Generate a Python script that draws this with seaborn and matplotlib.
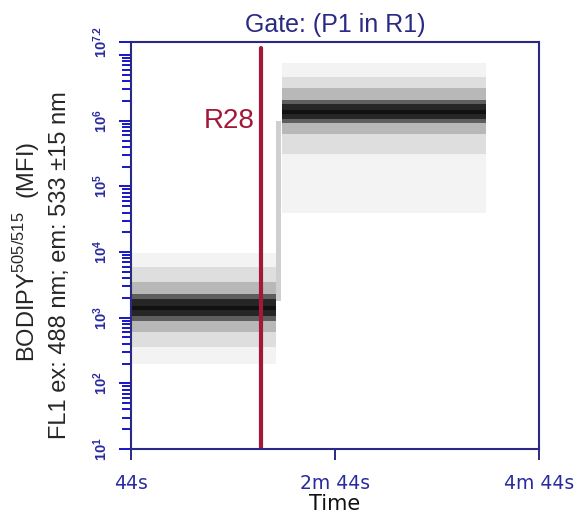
import numpy as np
import pandas as pd
import matplotlib
matplotlib.use("Agg")
import matplotlib.pyplot as plt
import seaborn as sns

# ---------------- data ----------------
time_ticks = [44, 164, 284]                 # seconds
time_tick_labels = ["44s", "2m 44s", "4m 44s"]
decade_exps = [1, 2, 3, 4, 5, 6, 7]
labelled_exps = [1, 2, 3, 4, 5, 6]
top_exp = 7.2

# two populations (before / after the gate R28): log10 MFI density levels
seg_start = [44, 133]
seg_end = [129, 253]
center_log = [3.15, 6.14]
level_names = ["sparse", "light", "medium", "dense", "core"]
level_lo = {
    "sparse": [2.30, 4.60],
    "light": [2.55, 5.50],
    "medium": [2.78, 5.80],
    "dense": [2.95, 5.96],
    "core": [3.03, 6.03],
}
level_hi = {
    "sparse": [3.98, 6.88],
    "light": [3.78, 6.66],
    "medium": [3.55, 6.50],
    "dense": [3.36, 6.32],
    "core": [3.28, 6.25],
}

# transition streak
trans_start = 129.5
trans_end = 132.5
trans_lo = 3.25
trans_hi = 6.0

gate_time = 120.5
gate_name = "R28"
gate_label_log = 6.0
title = "Gate: (P1 in R1)"

# ---------------- style ----------------
sns.set_style("white")
plt.rcParams["font.family"] = ["Liberation Sans", "DejaVu Sans"]
plt.rcParams["mathtext.fontset"] = "custom"
plt.rcParams["mathtext.rm"] = "Liberation Sans"
plt.rcParams["mathtext.bf"] = "Liberation Sans:bold"

navy = "#2A2A84"
blue = "#1515C8"
lab_blue = "#2A2AA0"
level_colors = {
    "sparse": "#f3f3f3",
    "light": "#dedede",
    "medium": "#b8b8b8",
    "dense": "#5e5e5e",
    "core": "#262626",
}

fig = plt.figure(figsize=(5.77, 5.21), dpi=100)
ax = fig.add_axes([131 / 577, 1 - 449 / 521, 408 / 577, 407 / 521])

# bands
for i in range(len(seg_start)):
    xs = [seg_start[i], seg_end[i]]
    for name in level_names:
        ax.fill_between(xs, [10 ** level_lo[name][i]] * 2, [10 ** level_hi[name][i]] * 2,
                        color=level_colors[name], lw=0)

ax.fill_betweenx([10 ** trans_lo, 10 ** trans_hi], [trans_start] * 2, [trans_end] * 2,
                 color="#cfcfcf", lw=0)

centers = pd.DataFrame({
    "time": [seg_start[0], seg_end[0], seg_start[1], seg_end[1]],
    "mfi": [10 ** center_log[0], 10 ** center_log[0], 10 ** center_log[1], 10 ** center_log[1]],
    "pop": ["low", "low", "high", "high"],
})
sns.lineplot(data=centers, x="time", y="mfi", units="pop", estimator=None,
             color="#111111", lw=3, ax=ax, legend=False, solid_capstyle="butt")

# gate line
ax.axvline(gate_time, ymin=0, ymax=0.985, color="#A3183A", lw=3)
ax.text(gate_time - 3.5, 10 ** gate_label_log, gate_name, color="#A3183A", fontsize=20,
        ha="right", va="center")

ax.set_yscale("log")
ax.set_xlim(time_ticks[0], time_ticks[-1])
ax.set_ylim(10 ** decade_exps[0], 10 ** top_exp)

ax.set_xticks(time_ticks)
ax.set_xticklabels(time_tick_labels, color=lab_blue, fontsize=13.5, family="DejaVu Sans")
yt = [10 ** e for e in decade_exps] + [10 ** top_exp]
ylabels = [(r"$\mathbf{10^{%d}}$" % e) if e in labelled_exps else "" for e in decade_exps]
ylabels.append(r"$\mathbf{10^{7.2}}$")
ax.set_yticks(yt)
ax.set_yticklabels(ylabels, rotation=90, va="center", color=lab_blue, fontsize=10.5)
ax.yaxis.set_minor_locator(matplotlib.ticker.LogLocator(base=10, subs=np.arange(2, 10), numticks=100))
ax.yaxis.set_minor_formatter(matplotlib.ticker.NullFormatter())

ax.tick_params(axis="x", which="major", bottom=True, direction="out", length=8, width=1.4,
               color=navy, pad=10)
ax.tick_params(axis="x", which="minor", bottom=False)
ax.tick_params(axis="y", which="major", left=True, direction="out", length=9, width=1.4,
               color=blue, pad=6)
ax.tick_params(axis="y", which="minor", left=True, direction="out", length=6.5, width=1.4,
               color=blue)

for s in ax.spines.values():
    s.set_color(navy)
    s.set_linewidth(1.5)

ax.set_xlabel("Time", fontsize=15, color="#111111", labelpad=1, family="DejaVu Sans")
ax.set_ylabel("")
ax.set_title(title, color=navy, fontsize=18, pad=7)

fig.text(27 / 577, 1 - 252 / 521, r"BODIPY$^{505/515}$  (MFI)", rotation=90,
         ha="center", va="center", fontsize=17)
fig.text(60 / 577, 1 - 265 / 521, "FL1 ex: 488 nm; em: 533 \u00b115 nm", rotation=90,
         ha="center", va="center", fontsize=17)

fig.savefig("out.png", dpi=100)
